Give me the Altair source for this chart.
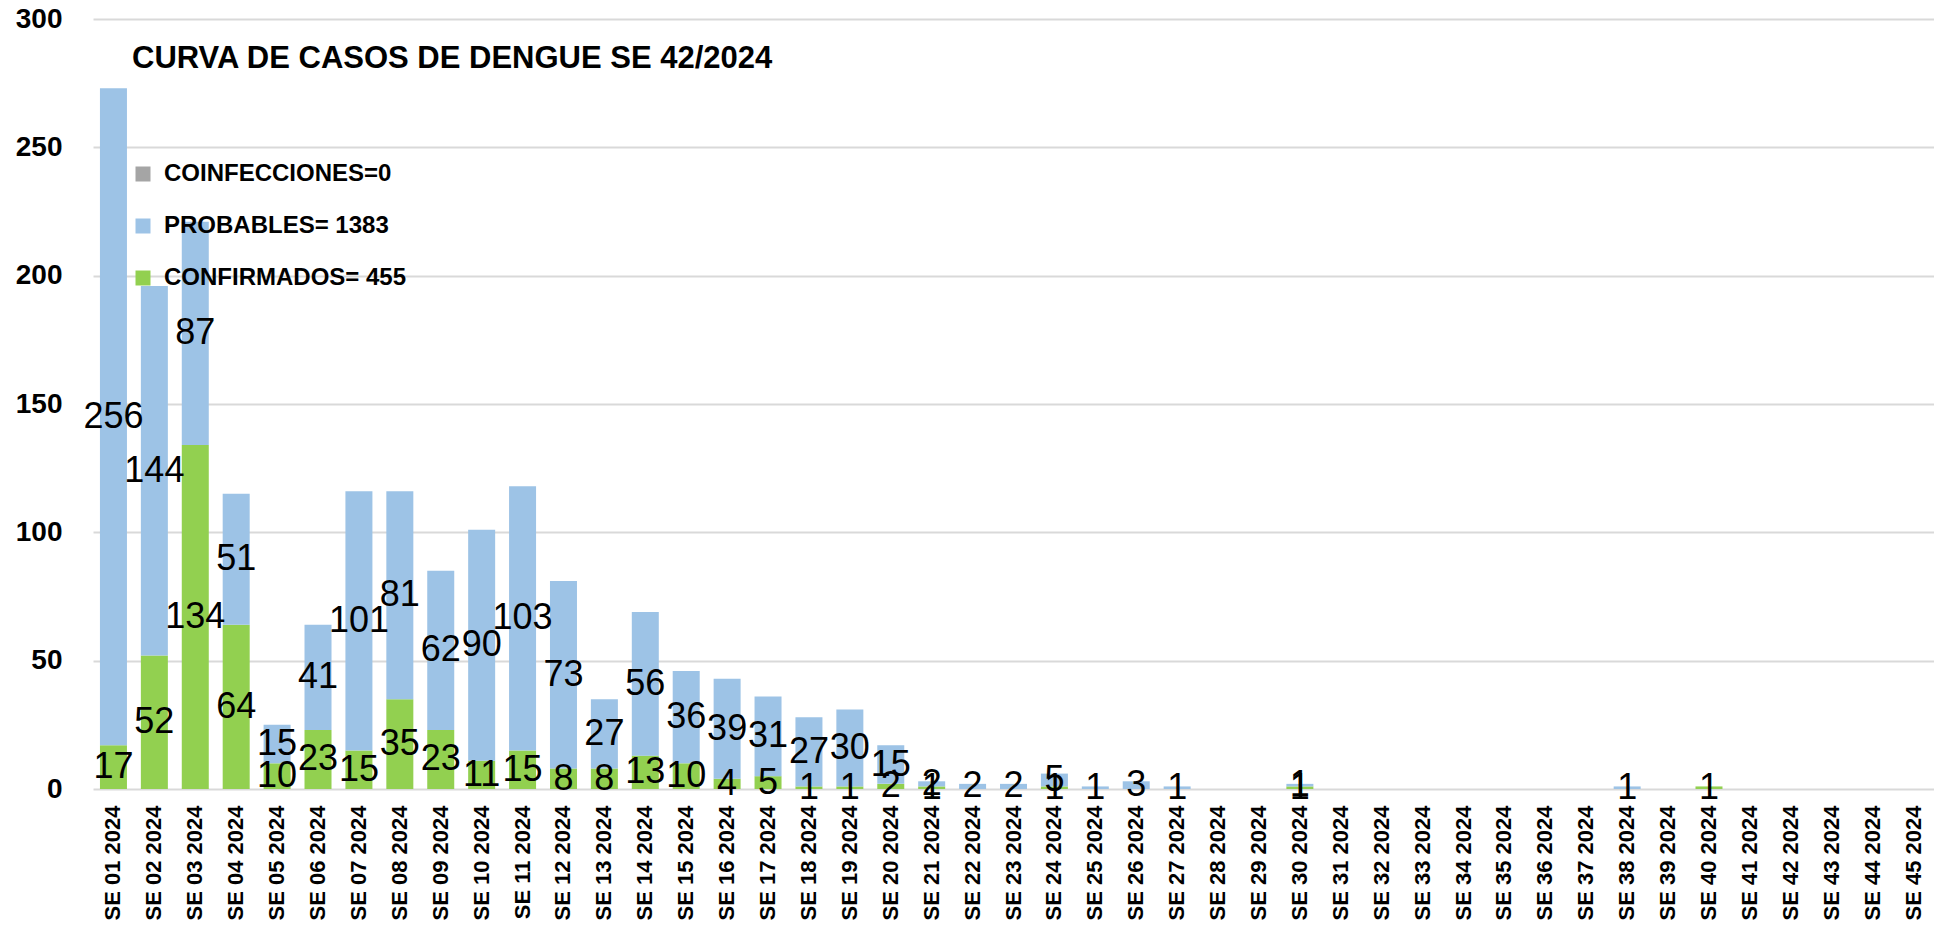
import altair as alt
import pandas as pd

weeks = [f"SE {i:02d} 2024" for i in range(1, 46)]
confirmados = [17, 52, 134, 64, 10, 23, 15, 35, 23, 11, 15, 8, 8, 13, 10, 4, 5, 1, 1, 2,
               1, 0, 0, 1, 0, 0, 0, 0, 0, 1, 0, 0, 0, 0, 0, 0, 0, 0, 0, 1,
               0, 0, 0, 0, 0]
probables = [256, 144, 87, 51, 15, 41, 101, 81, 62, 90, 103, 73, 27, 56, 36, 39, 31, 27, 30, 15,
             2, 2, 2, 5, 1, 3, 1, 0, 0, 1, 0, 0, 0, 0, 0, 0, 0, 1, 0, 0,
             0, 0, 0, 0, 0]
series_names = ["COINFECCIONES=0", "PROBABLES= 1383", "CONFIRMADOS= 455"]
series_colors = ["#A5A5A5", "#9DC3E6", "#92D050"]
y_ticks = [0, 50, 100, 150, 200, 250, 300]
title_text = "CURVA DE CASOS DE DENGUE SE 42/2024"

rows = []
for w, c, p in zip(weeks, confirmados, probables):
    rows.append({"week": w, "serie": series_names[2], "value": c, "ord": 0})
    rows.append({"week": w, "serie": series_names[1], "value": p, "ord": 1})
df = pd.DataFrame(rows)

base = alt.Chart(df).transform_stack(
    stack="value", groupby=["week"], as_=["v0", "v1"],
    sort=[alt.SortField("ord", order="ascending")]
).transform_calculate(mid="(datum.v0 + datum.v1) / 2")

x_enc = alt.X("week:N", sort=weeks, title=None,
              scale=alt.Scale(paddingInner=0.34, paddingOuter=0.17),
              axis=alt.Axis(labelAngle=-90, labelFont="Liberation Sans", labelFontWeight="bold",
                            labelFontSize=22, labelColor="#000000", ticks=False, domain=False,
                            labelPadding=16, grid=False))
y_scale = alt.Scale(domain=[0, 300], nice=False)

bars = base.mark_bar().encode(
    x=x_enc,
    y=alt.Y("v0:Q", scale=y_scale, title=None,
            axis=alt.Axis(values=y_ticks, labelFont="Liberation Sans", labelFontWeight="bold",
                          labelFontSize=28, labelColor="#000000", ticks=False, domain=False,
                          labelPadding=31, gridColor="#D9D9D9", gridWidth=2)),
    y2="v1:Q",
    color=alt.Color("serie:N", title=None,
                    scale=alt.Scale(domain=series_names, range=series_colors),
                    legend=alt.Legend(orient="none", legendX=38, legendY=143,
                                      symbolType="square", symbolSize=225, symbolStrokeWidth=0,
                                      labelFont="Liberation Sans", labelFontWeight="bold",
                                      labelFontSize=24, labelColor="#000000", labelOffset=9,
                                      labelLimit=0, rowPadding=28, padding=0)),
)

labels = base.transform_filter("datum.value > 0").mark_text(
    font="Liberation Sans", fontSize=36, color="#000000", align="center", baseline="middle"
).encode(
    x=alt.X("week:N", sort=weeks),
    y=alt.Y("mid:Q", scale=y_scale),
    text="value:Q",
)

chart = alt.layer(bars, labels).properties(
    width=1841, height=770,
    title=alt.TitleParams(text=title_text, anchor="start", frame="group", orient="top",
                          font="Liberation Sans", fontSize=31, fontWeight="bold", color="#000000",
                          offset=0, dx=39, dy=94, baseline="alphabetic"),
    autosize=alt.AutoSizeParams(type="none"),
    padding={"left": 85, "top": 11, "right": 0, "bottom": 133},
).configure_view(stroke=None)

chart.save("out.html", embed_options={"renderer": "svg", "actions": False})
